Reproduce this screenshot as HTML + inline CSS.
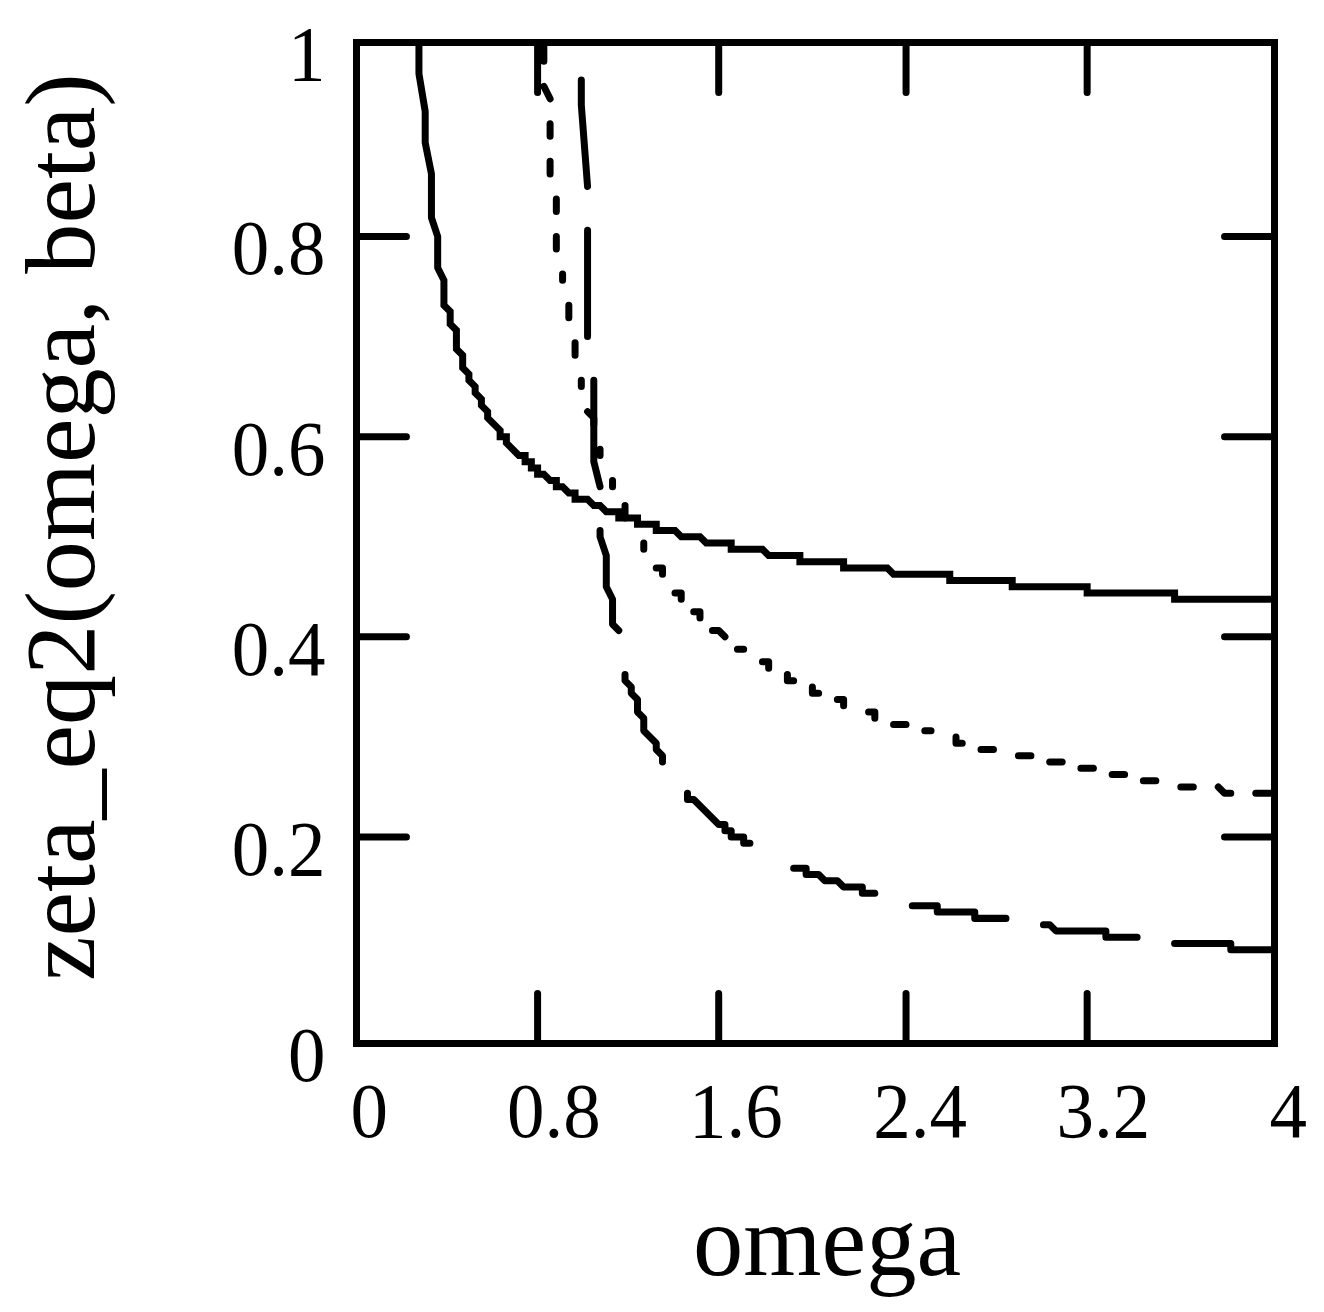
<!DOCTYPE html>
<html><head><meta charset="utf-8"><title>plot</title>
<style>html,body{margin:0;padding:0;background:#fff}svg{display:block}text{font-family:"Liberation Serif",serif;fill:#000}</style></head>
<body><svg width="1324" height="1312" viewBox="0 0 1324 1312">
<rect width="1324" height="1312" fill="#fff"/>
<g transform="translate(356.5 42.5) scale(6.24490 6.25625)" fill="none" stroke="#000" stroke-width="1.12" stroke-linecap="round" stroke-linejoin="round">
<path d="M29 0V8M29 160V152M58 0V8M58 160V152M88 0V8M88 160V152M117 0V8M117 160V152M0 31H8M147 31H139M0 63H8M147 63H139M0 95H8M147 95H139M0 127H8M147 127H139"/>
<path d="M10 0 L10 5 L11 11 L11 16 L12 21 L12 28 L13 31 L13 36 L14 38 L14 42 L15 43 L15 45 L16 46 L16 49 L17 50 L17 52 L18 53 L18 54 L19 55 L19 56 L20 57 L20 58 L21 59 L21 60 L23 62 L23 63 L24 63 L24 64 L26 66 L27 66 L27 67 L28 67 L28 68 L29 68 L29 69 L30 69 L31 70 L32 70 L32 71 L33 71 L34 72 L35 72 L35 73 L37 73 L38 74 L39 74 L40 75 L42 75 L42 76 L45 76 L45 77 L48 77 L48 78 L51 78 L52 79 L55 79 L56 80 L60 80 L60 81 L65 81 L66 82 L71 82 L71 83 L78 83 L78 84 L85 84 L86 85 L95 85 L95 86 L105 86 L105 87 L117 87 L117 88 L131 88 L131 89 L147 89" stroke-linecap="butt" stroke-linejoin="miter"/>
<path d="M30 0 L30 3M30 7 L31 9M31 13 L31 15M31 19 L31 21M32 25 L32 27M32 31 L32 33M33 37 L33 38M34 42 L34 44M35 48 L35 50M36 54 L36 55M37 59 L38 60 L38 61M39 65 L39 66M41 70 L41 71M43 74 L43 76M46 80 L46 81M48 84 L49 84 L49 85M51 88 L52 88 L52 89M54 91 L55 91 L55 92M57 94 L58 94 L59 95M61 97 L62 97M65 99 L66 99 L66 100M69 101 L69 102 L70 102M73 103 L73 104 L74 104M77 105 L78 105 L78 106M82 107 L83 107 L83 108M86 109 L88 109M91 110 L92 110M96 111 L96 112 L97 112M100 113 L102 113M106 114 L108 114M111 115 L113 115M116 116 L118 116M121 117 L123 117M126 118 L128 118M132 119 L134 119M138 119 L139 120 L140 120M144 120 L147 120"/>
<path d="M36 6 L36 10 L37 23M37 30 L37 47M38 54 L38 67 L39 71M39 78 L39 79 L40 82 L40 87 L41 89 L41 93 L42 94M43 101 L43 102 L44 103 L44 104 L45 105 L45 107 L46 108 L46 110 L48 112 L48 113 L49 114 L49 115M53 120 L53 121 L54 121 L58 125 L59 125 L59 126 L60 126 L60 127 L62 127 L62 128 L63 128M70 132 L72 132 L72 133 L74 133 L75 134 L77 134 L78 135 L81 135 L81 136 L83 136M89 138 L93 138 L93 139 L99 139 L99 140 L104 140M110 141 L111 141 L112 142 L120 142 L120 143 L125 143M131 144 L140 144 L140 145 L147 145"/>
<rect x="0" y="0" width="147" height="160" stroke-linejoin="miter"/>
</g>
<g font-size="75" text-anchor="end">
<text transform="translate(325.5 80.4) scale(1 1.045)">1</text>
<text transform="translate(325.5 274.3) scale(1 1.045)">0.8</text>
<text transform="translate(325.5 474.5) scale(1 1.045)">0.6</text>
<text transform="translate(325.5 674.7) scale(1 1.045)">0.4</text>
<text transform="translate(325.5 874.9) scale(1 1.045)">0.2</text>
<text transform="translate(325.5 1081.4) scale(1 1.045)">0</text>
</g>
<g font-size="75">
<text transform="translate(350.4 1137.4) scale(1 1.045)">0</text>
<text transform="translate(507 1137.4) scale(1 1.045)">0.8</text>
<text transform="translate(689 1137.4) scale(1 1.045)">1.6</text>
<text transform="translate(873.2 1137.4) scale(1 1.045)">2.4</text>
<text transform="translate(1056.5 1137.4) scale(1 1.045)">3.2</text>
<text transform="translate(1269.5 1137.4) scale(1 1.045)">4</text>
</g>
<text font-size="100.6" x="693" y="1275">omega</text>
<text font-size="100.3" transform="translate(93.8 981) rotate(-90)">zeta_eq2(omega, beta)</text>
</svg></body></html>
